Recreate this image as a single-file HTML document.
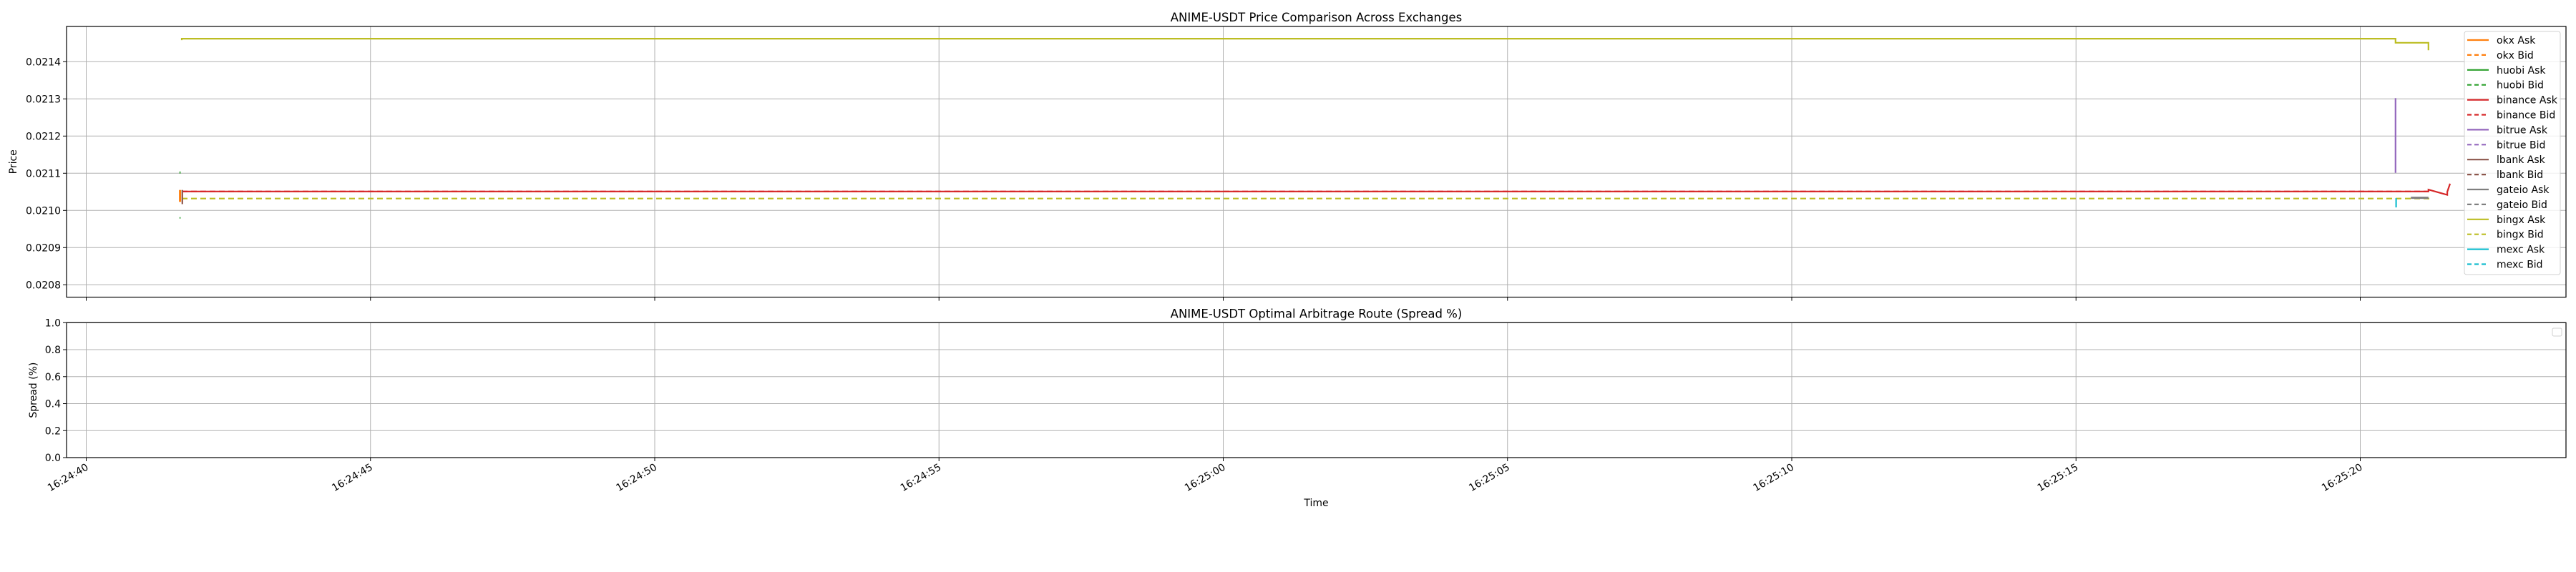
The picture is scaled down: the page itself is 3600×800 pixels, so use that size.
<!DOCTYPE html>
<html><head><meta charset="utf-8"><style>
html,body{margin:0;padding:0;background:#fff;}
svg{display:block;font-family:"DejaVu Sans","Liberation Sans",sans-serif;}
</style></head><body>
<svg id="chart" width="3600" height="800" xmlns="http://www.w3.org/2000/svg">
<rect x="0" y="0" width="3600" height="800" fill="#fff"/>
<g id="topg"></g>
<g id="botg"></g>
</svg>
<script>
// ---- data (seconds after 16:24:40) ----
const tickLabels = ["16:24:40","16:24:45","16:24:50","16:24:55","16:25:00","16:25:05","16:25:10","16:25:15","16:25:20"];
const tickSeconds = [0,5,10,15,20,25,30,35,40];
const priceTicks = [0.0208,0.0209,0.0210,0.0211,0.0212,0.0213,0.0214];
const spreadTicks = [0.0,0.2,0.4,0.6,0.8,1.0];
const legendNames = ["okx Ask","okx Bid","huobi Ask","huobi Bid","binance Ask","binance Bid","bitrue Ask","bitrue Bid","lbank Ask","lbank Bid","gateio Ask","gateio Bid","bingx Ask","bingx Bid","mexc Ask","mexc Bid"];
const legendColors = ["#ff7f0e","#ff7f0e","#2ca02c","#2ca02c","#d62728","#d62728","#9467bd","#9467bd","#8c564b","#8c564b","#7f7f7f","#7f7f7f","#bcbd22","#bcbd22","#17becf","#17becf"];

const okxAskT = [1.65,1.65];           const okxAskV = [0.021055,0.021023];
const huobiAskT = [1.64,1.66];         const huobiAskV = [0.021102,0.021102];
const huobiBidT = [1.64,1.66];         const huobiBidV = [0.020980,0.020980];
const binanceAskT = [1.68,41.2,41.2,41.53,41.53,41.58]; const binanceAskV = [0.021051,0.021051,0.021056,0.021042,0.021050,0.021072];
const binanceBidT = [1.68,41.2];       const binanceBidV = [0.021051,0.021051];
const bitrueAskT = [40.62,40.62];      const bitrueAskV = [0.021302,0.021101];
const lbankAskT = [1.69,1.69];         const lbankAskV = [0.021055,0.021017];
const gateioAskT = [40.89,41.2];       const gateioAskV = [0.021034,0.021034];
const bingxAskT = [1.68,1.68,40.62,40.62,41.2,41.2]; const bingxAskV = [0.021458,0.021462,0.021462,0.021451,0.021451,0.021431];
const bingxBidT = [1.68,41.2,41.2];    const bingxBidV = [0.021032,0.021032,0.021027];
const mexcAskT = [40.63,40.63];        const mexcAskV = [0.021033,0.021008];

// ---- geometry ----
const NS="http://www.w3.org/2000/svg";
const L=93, R=3586, T1=37, B1=415.6, T2=451.3, B2=640;
const X = s => 120.5 + s*79.45;
const Y1 = v => 86.3 + (0.0214 - v)*520000;
const Y2 = v => B2 - v*(B2-T2);
function el(tag, attrs, parent){const e=document.createElementNS(NS,tag);for(const k in attrs)e.setAttribute(k,attrs[k]);parent.appendChild(e);return e;}
const gTop=document.getElementById('topg'), gBot=document.getElementById('botg');

function axes(g,T,B,yt,Yf,fmt,title,ylabel,ylx){
  tickSeconds.forEach(s=>{const l=el('line',{x1:X(s),x2:X(s),y1:T,y2:B,stroke:'#b0b0b0','stroke-width':1},g);
    
    
    el('line',{x1:X(s),x2:X(s),y1:B,y2:B+5,stroke:'#000','stroke-width':1},g);});
  yt.forEach(v=>{const y=Yf(v);const l=el('line',{x1:L,x2:R,y1:y,y2:y,stroke:'#b0b0b0','stroke-width':1},g);
    
    
    el('line',{x1:L-5,x2:L,y1:y,y2:y,stroke:'#000','stroke-width':1},g);
    const t=el('text',{x:L-8,y:y+5,'text-anchor':'end','font-size':14,fill:'#000'},g);t.textContent=fmt(v);
    
    });
  const f=el('rect',{x:L,y:T,width:R-L,height:B-T,fill:'none',stroke:'#000','stroke-width':1.2},g);
  
  
  const tt=el('text',{x:(L+R)/2,y:T-7,'text-anchor':'middle','font-size':16.5,fill:'#000'},g);tt.textContent=title;
  
  
  const cy=(T+B)/2;
  const yl=el('text',{x:ylx,y:cy,'text-anchor':'middle','font-size':14,fill:'#000',transform:`rotate(-90 ${ylx} ${cy})`},g);yl.textContent=ylabel;
  
  
}
axes(gTop,T1,B1,priceTicks,Y1,v=>v.toFixed(4),'ANIME-USDT Price Comparison Across Exchanges','Price',23);
axes(gBot,T2,B2,spreadTicks,Y2,v=>v.toFixed(1),'ANIME-USDT Optimal Arbitrage Route (Spread %)','Spread (%)',51);

tickSeconds.forEach((s,i)=>{const x=X(s)+4,y=B2+16;
  const t=el('text',{x:x,y:y,'text-anchor':'end','font-size':14,fill:'#000',transform:`rotate(-30 ${x} ${y})`},gBot);t.textContent=tickLabels[i];
  
  });
const xl=el('text',{x:(L+R)/2,y:708,'text-anchor':'middle','font-size':14,fill:'#000'},gBot);xl.textContent='Time';



function series(ts,vs,color,dash,name,w){
  const d=ts.map((t,i)=>(i?'L':'M')+X(t).toFixed(1)+' '+Y1(vs[i]).toFixed(1)).join(' ');
  const p=el('path',{d:d,fill:'none',stroke:color,'stroke-width':w||2.2,'stroke-dasharray':dash?'8 5':'none'},gTop);
  
  
}
series(bingxBidT,bingxBidV,'#bcbd22',true,'bingx-bid-line');
series(binanceAskT,binanceAskV,'#d62728',false,'binance-ask-line');
series(binanceBidT,binanceBidV,'#d62728',true,'binance-bid-line');
series(bingxAskT,bingxAskV,'#bcbd22',false,'bingx-ask-line');
series(okxAskT,okxAskV,'#ff7f0e',false,'okx-ask-line',3);
series(lbankAskT,lbankAskV,'#8c564b',false,'lbank-ask-line');
series(huobiAskT,huobiAskV,'#2ca02c',false,'huobi-ask-line',3);
series(huobiBidT,huobiBidV,'#2ca02c',true,'huobi-bid-line',2);
series(bitrueAskT,bitrueAskV,'#9467bd',false,'bitrue-ask-line');
series(mexcAskT,mexcAskV,'#17becf',false,'mexc-ask-line');
series(gateioAskT,gateioAskV,'#7f7f7f',false,'gateio-ask-line',3);

const lg=el('g',{},gTop);


el('rect',{x:3444,y:44,width:134,height:340,rx:3,fill:'#fff','fill-opacity':0.8,stroke:'#d0d0d0'},lg);
legendNames.forEach((n,i)=>{const y=56+i*20.9;
  const e=el('g',{},lg);
  
  
  el('line',{x1:3448,x2:3478,y1:y,y2:y,stroke:legendColors[i],'stroke-width':2.2,'stroke-dasharray':i%2?'6 4':'none'},e);
  const t=el('text',{x:3489,y:y+5,'font-size':14,fill:'#000'},e);t.textContent=n;});
const el2=el('rect',{x:3567,y:459,width:13,height:11,rx:2,fill:'#fff',stroke:'#d0d0d0'},gBot);


</script>
</body></html>
